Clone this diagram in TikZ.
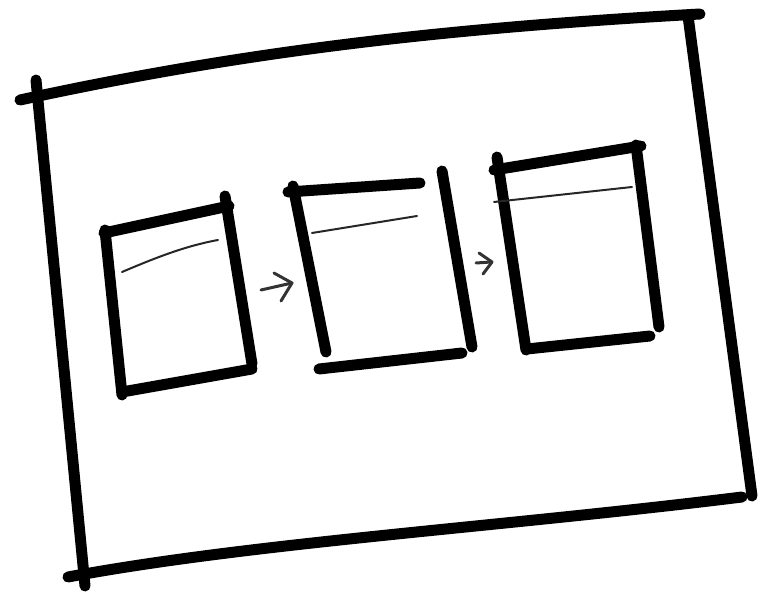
\documentclass[tikz,border=0pt]{standalone}
\begin{document}
\begin{tikzpicture}[x=1pt,y=-1pt,
  thickstroke/.style={line width=11pt,line cap=round,black},
  thinstroke/.style={line width=2pt,line cap=round,black!85},
  arrowstroke/.style={line width=3pt,line cap=round,line join=round,black!80}]
\useasboundingbox (0,0) rectangle (763,593);
% outer frame
\draw[thickstroke] (20,100) .. controls (250,50) and (450,28) .. (700,14);
\draw[thickstroke] (36,80) -- (85,586);
\draw[thickstroke] (68,577) .. controls (250,543) and (500,527) .. (742,497);
\draw[thickstroke] (688,16) -- (752,496);
% box 1
\draw[thickstroke] (104,233) -- (229,206);
\draw[thickstroke] (105,230) -- (122,395);
\draw[thickstroke] (225,196) -- (252,364);
\draw[thickstroke] (122,392) -- (252,369);
\draw[thinstroke] (122,272) .. controls (155,258) and (185,246) .. (218,240);
% arrow 1
\draw[arrowstroke] (261,290) -- (292,283);
\draw[arrowstroke] (274,273) -- (292,283) -- (281,301);
% box 2
\draw[thickstroke] (288,192) -- (420,183);
\draw[thickstroke] (293,186) -- (326,352);
\draw[thickstroke] (319,369) -- (462,353);
\draw[thickstroke] (442,171) -- (472,347);
\draw[thinstroke] (312,233) -- (417,216);
% arrow 2
\draw[arrowstroke] (476,263) -- (491,262);
\draw[arrowstroke] (479,253) -- (492,262) -- (483,274);
% box 3
\draw[thickstroke] (494,170) -- (641,146);
\draw[thickstroke] (497,157) -- (526,350);
\draw[thickstroke] (636,145) -- (659,327);
\draw[thickstroke] (527,349) -- (650,336);
\draw[thinstroke] (494,202) -- (632,187);
\end{tikzpicture}
\end{document}
